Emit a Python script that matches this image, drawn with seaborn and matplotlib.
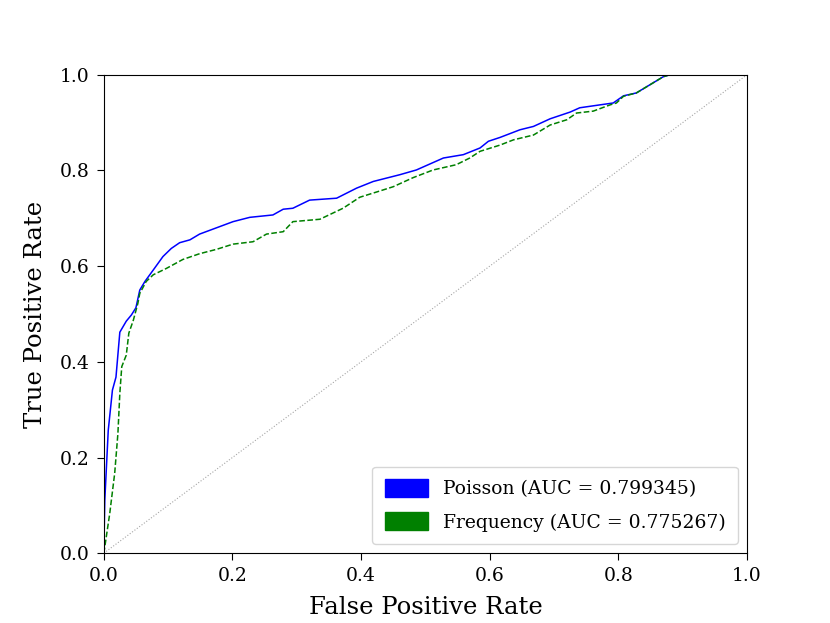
import numpy as np
import pandas as pd
import matplotlib
matplotlib.use("Agg")
import matplotlib.pyplot as plt
import seaborn as sns
from matplotlib.patches import Patch

# ROC points (false positive rate, true positive rate)
poisson_fpr = [0.0, 0.0016, 0.007, 0.0135, 0.019, 0.025, 0.035, 0.043, 0.05, 0.056,
               0.064, 0.077, 0.092, 0.105, 0.118, 0.134, 0.149, 0.173, 0.201, 0.227,
               0.263, 0.279, 0.294, 0.320, 0.362, 0.393, 0.419, 0.460, 0.486, 0.528,
               0.559, 0.585, 0.598, 0.616, 0.647, 0.668, 0.694, 0.725, 0.740, 0.771,
               0.792, 0.808, 0.828, 0.849, 0.870, 0.880, 1.0]
poisson_tpr = [0.0, 0.11, 0.257, 0.341, 0.368, 0.462, 0.485, 0.498, 0.513, 0.55,
               0.568, 0.592, 0.62, 0.637, 0.649, 0.655, 0.667, 0.679, 0.693, 0.702,
               0.707, 0.719, 0.721, 0.738, 0.742, 0.763, 0.777, 0.791, 0.801, 0.826,
               0.833, 0.847, 0.861, 0.869, 0.885, 0.892, 0.908, 0.922, 0.931, 0.937,
               0.941, 0.956, 0.962, 0.979, 0.996, 1.0, 1.0]

freq_fpr = [0.0, 0.0016, 0.0093, 0.017, 0.022, 0.025, 0.028, 0.035, 0.039, 0.046,
            0.053, 0.056, 0.066, 0.077, 0.097, 0.123, 0.149, 0.175, 0.201, 0.232,
            0.253, 0.279, 0.294, 0.336, 0.372, 0.398, 0.429, 0.450, 0.481, 0.512,
            0.548, 0.569, 0.585, 0.616, 0.637, 0.668, 0.694, 0.720, 0.735, 0.761,
            0.787, 0.797, 0.808, 0.828, 0.849, 0.870, 0.880, 1.0]
freq_tpr = [0.0, 0.013, 0.083, 0.167, 0.25, 0.334, 0.39, 0.414, 0.46, 0.487,
            0.522, 0.543, 0.568, 0.582, 0.595, 0.614, 0.626, 0.635, 0.646, 0.651,
            0.667, 0.672, 0.693, 0.698, 0.721, 0.744, 0.757, 0.766, 0.785, 0.801,
            0.812, 0.826, 0.840, 0.853, 0.864, 0.874, 0.895, 0.906, 0.920, 0.924,
            0.937, 0.941, 0.955, 0.962, 0.979, 0.996, 1.0, 1.0]

labels = ["Poisson (AUC = 0.799345)", "Frequency (AUC = 0.775267)"]
colors = ["blue", "green"]

plt.rcParams["font.family"] = ["DejaVu Serif"]

fig, ax = plt.subplots(figsize=(8.3, 6.23), dpi=100)
fig.subplots_adjust(left=0.125, right=0.9, top=0.88, bottom=0.112)

poisson = pd.DataFrame({"fpr": poisson_fpr, "tpr": poisson_tpr})
freq = pd.DataFrame({"fpr": freq_fpr, "tpr": freq_tpr})

sns.lineplot(data=poisson, x="fpr", y="tpr", sort=False, estimator=None,
             color=colors[0], linewidth=1.1, ax=ax)
sns.lineplot(data=freq, x="fpr", y="tpr", sort=False, estimator=None,
             color=colors[1], linewidth=1.1, linestyle="--", ax=ax)
ax.plot([0, 1], [0, 1], color="gray", linestyle=":", linewidth=0.8, alpha=0.7)

ax.set_xlim(0, 1)
ax.set_ylim(0, 1)
ax.set_xlabel("False Positive Rate", fontsize=17.5, labelpad=8)
ax.set_ylabel("True Positive Rate", fontsize=17.5, labelpad=9)
ax.tick_params(labelsize=13.5, length=5, pad=5)

handles = [Patch(color=c, label=l) for c, l in zip(colors, labels)]
ax.legend(handles=handles, loc="lower right", fontsize=13.5, handlelength=2.3,
          handleheight=1.1, labelspacing=0.75, borderpad=0.65)

fig.savefig("out.png", dpi=100)
